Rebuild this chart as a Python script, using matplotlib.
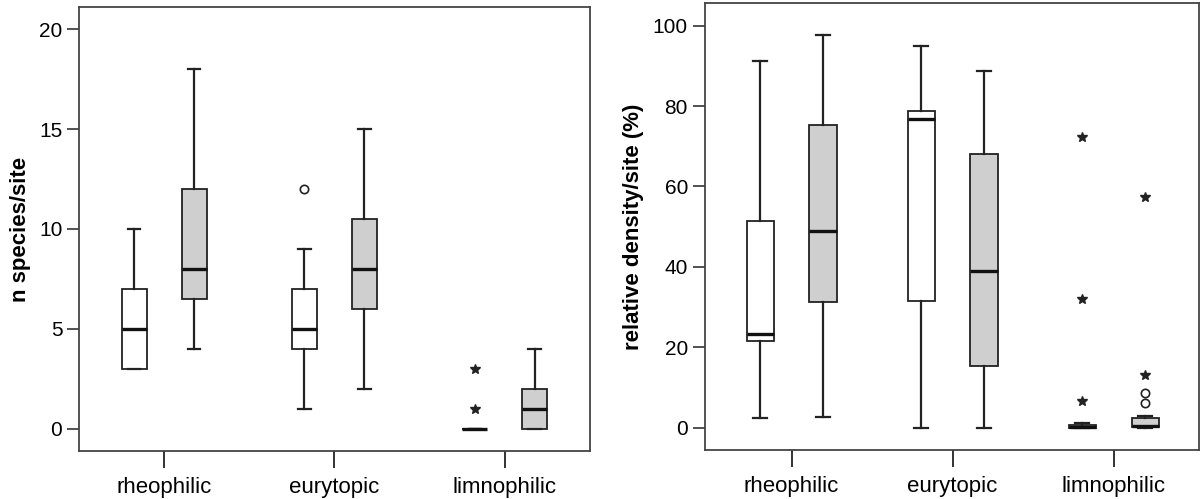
import matplotlib.pyplot as plt

plt.rcParams['font.family'] = ['Liberation Sans', 'DejaVu Sans']

groups = ["rheophilic", "eurytopic", "limnophilic"]

# left panel: n species/site  (white box, grey box per group)
# each entry: whislo, q1, med, q3, whishi
sp_white = [[3, 3, 5, 7, 10], [1, 4, 5, 7, 9], [0, 0, 0, 0, 0]]
sp_grey = [[4, 6.5, 8, 12, 18], [2, 6, 8, 10.5, 15], [0, 0, 1, 2, 4]]
sp_white_circ = [[], [12], []]
sp_white_star = [[], [], [1, 3]]
sp_grey_circ = [[], [], []]
sp_grey_star = [[], [], []]

# right panel: relative density/site (%)
rd_white = [[2.3, 21.5, 23.3, 51.5, 91.3], [0, 31.5, 76.8, 78.7, 95.0], [0, 0, 0.1, 0.5, 1.1]]
rd_grey = [[2.7, 31.2, 48.9, 75.3, 97.6], [0, 15.3, 38.9, 68.0, 88.7], [0, 0.2, 0.4, 2.3, 2.9]]
rd_white_circ = [[], [], []]
rd_white_star = [[], [], [6.7, 32.0, 72.3]]
rd_grey_circ = [[], [], [6.1, 8.5]]
rd_grey_star = [[], [], [13.1, 57.3]]


def make_stats(vals):
    return [dict(whislo=v[0], q1=v[1], med=v[2], q3=v[3], whishi=v[4], fliers=[])
            for v in vals]


def draw_panel(ax, white, grey, wc, ws, gc, gs, off, width):
    edge = "#222222"
    for vals, shift, fill, circ, star in [(white, -off, "white", wc, ws),
                                          (grey, off, "#cfcfcf", gc, gs)]:
        pos = [i + shift for i in range(len(groups))]
        ax.bxp(make_stats(vals), positions=pos, widths=width, patch_artist=True,
               capwidths=width * 0.5, showfliers=False,
               boxprops=dict(facecolor=fill, edgecolor=edge, linewidth=1.3),
               whiskerprops=dict(color=edge, linewidth=1.6),
               capprops=dict(color=edge, linewidth=1.6),
               medianprops=dict(color="#111111", linewidth=2.4))
        for p, c, s in zip(pos, circ, star):
            if c:
                ax.plot([p] * len(c), c, "o", mfc="none", mec=edge, ms=6, mew=1.2)
            if s:
                ax.plot([p] * len(s), s, "*", color="#222222", ms=7)
    ax.set_xticks(range(len(groups)))
    ax.set_xticklabels(groups, fontsize=16)
    ax.tick_params(axis="x", length=12, width=1.4, color="#333333", pad=7)
    ax.tick_params(axis="y", length=9, width=1.2, color="#333333", labelsize=15, pad=3)
    for sp in ax.spines.values():
        sp.set_color("#444444")
        sp.set_linewidth(1.3)


fig = plt.figure(figsize=(12.02, 4.99), dpi=100)

ax1 = fig.add_axes([0.0657, 0.0968, 0.4251, 0.8886])
draw_panel(ax1, sp_white, sp_grey, sp_white_circ, sp_white_star,
           sp_grey_circ, sp_grey_star, 0.176, 0.147)
ax1.set_xlim(-0.5, 2.5)
ax1.set_ylim(-1.1, 21.1)
ax1.set_yticks([0, 5, 10, 15, 20])
ax1.set_ylabel("n species/site", fontsize=16, fontweight="bold", labelpad=6)

ax2 = fig.add_axes([0.5862, 0.0982, 0.4113, 0.8952])
draw_panel(ax2, rd_white, rd_grey, rd_white_circ, rd_white_star,
           rd_grey_circ, rd_grey_star, 0.195, 0.168)
ax2.set_xlim(-0.54, 2.53)
ax2.set_ylim(-5.6, 105.6)
ax2.set_yticks([0, 20, 40, 60, 80, 100])
ax2.set_ylabel("relative density/site (%)", fontsize=16, fontweight="bold", labelpad=6)

fig.savefig("out.png", dpi=100)
